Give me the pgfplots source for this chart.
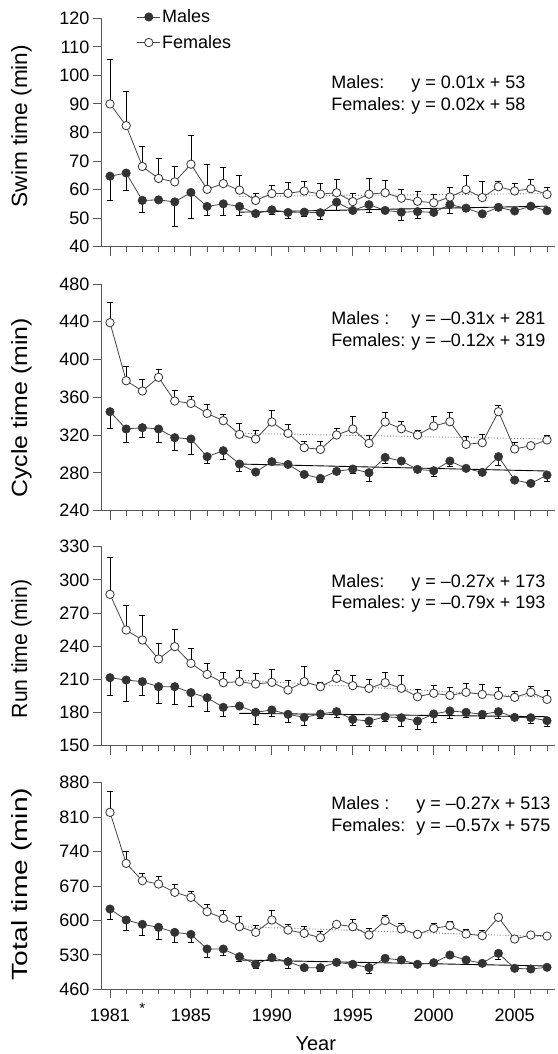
\documentclass[border=0pt]{standalone}
\usepackage{fontspec}
\setmainfont{Liberation Sans}
\usepackage{graphicx}
\usepackage{pgfplots}
\usepackage{pgfplotstable}
\pgfplotsset{compat=1.18}

\definecolor{mfill}{HTML}{333333}
\definecolor{lgray}{HTML}{444444}

\pgfplotstableread{
x y e
0 64.7 8.5
1 65.8 6.0
2 56.2 4.2
3 56.4 0.3
4 55.7 8.7
5 59.0 9.2
6 54.1 3.0
7 55.0 4.0
8 54.1 3.0
9 51.6 0.8
10 52.9 1.7
11 52.0 2.0
12 52.1 1.5
13 51.9 2.5
14 55.6 3.0
15 52.7 1.0
16 54.7 2.6
17 52.7 0.5
18 52.1 2.8
19 52.3 2.3
20 52.0 0.8
21 54.7 3.1
22 53.5 1.0
23 51.5 0.5
24 53.8 1.0
25 52.5 0.8
26 54.2 0.5
27 52.6 0.8
}\swimM

\pgfplotstableread{
x y e
0 90.0 15.5
1 82.4 11.9
2 68.1 6.9
3 63.9 7.1
4 62.7 5.3
5 68.9 10.0
6 60.1 8.8
7 62.1 5.6
8 59.8 5.0
9 56.2 2.6
10 58.6 2.9
11 58.7 3.9
12 59.5 3.5
13 58.4 3.7
14 58.9 4.7
15 55.8 2.8
16 58.4 5.6
17 58.9 4.4
18 57.0 3.0
19 55.9 3.4
20 55.4 3.0
21 57.4 3.5
22 60.0 5.0
23 57.2 5.8
24 61.0 1.8
25 59.5 2.5
26 60.3 3.2
27 58.3 2.3
}\swimF

\pgfplotstableread{
x y e
0 344.8 17.6
1 326.5 14.2
2 327.9 10.6
3 326.5 14.5
4 317.3 13.1
5 315.9 15.9
6 297.2 7.1
7 303.5 8.8
8 289.4 8.1
9 280.9 2
10 291.9 2
11 289.0 2
12 278.4 2
13 274.2 4.6
14 281.6 2
15 284.1 4.1
16 280.2 9.5
17 296.4 6.3
18 292.6 2
19 283.7 2
20 282.3 5.6
21 292.6 5.9
22 284.8 2
23 280.6 2
24 297.2 8.8
25 272.4 2
26 268.9 2
27 277.7 7
}\cycleM

\pgfplotstableread{
x y e
0 439.0 21.2
1 377.6 15.6
2 366.7 12.3
3 381.2 8.8
4 356.1 10.9
5 353.6 7.7
6 343.0 9.9
7 335.3 6.7
8 320.8 11.7
9 315.9 9.5
10 333.9 12.0
11 321.9 9.5
12 306.7 6.3
13 304.9 8.8
14 320.1 7.1
15 326.5 13.7
16 311.3 8.8
17 333.9 9.9
18 326.8 7.4
19 320.1 5.3
20 329.6 9.9
21 334.2 9.6
22 310.2 8.1
23 312.0 9.2
24 344.8 7.1
25 305.3 6.7
26 308.8 3
27 314.8 5.3
}\cycleF

\pgfplotstableread{
x y e
0 211.5 16.3
1 209.4 19.0
2 207.9 12.1
3 203.4 15.1
4 203.4 16.0
5 198.0 12.7
6 193.4 12.0
7 184.7 8.5
8 185.9 1.5
9 180.2 10.6
10 182.3 6.1
11 178.4 7.6
12 175.6 6.9
13 178.7 4.2
14 180.8 4.8
15 173.8 5.1
16 172.3 5.1
17 176.2 4.5
18 175.3 7.5
19 172.3 7.5
20 178.7 7.9
21 181.4 6.9
22 180.2 4.2
23 178.4 3.4
24 180.8 6.3
25 175.6 1.5
26 175.3 5.1
27 172.6 5.4
}\runM

\pgfplotstableread{
x y e
0 286.9 33.5
1 254.6 22.0
2 245.6 22.0
3 228.4 14.2
4 239.6 15.7
5 224.5 13.5
6 214.5 10.0
7 207.0 9.3
8 207.9 10.5
9 205.8 9.6
10 207.3 12.1
11 200.4 8.4
12 207.9 13.6
13 203.4 3.9
14 210.9 7.0
15 204.3 9.0
16 201.9 8.1
17 207.0 9.3
18 201.9 12.0
19 194.3 6.7
20 197.4 7.5
21 195.5 7.0
22 198.3 8.1
23 196.4 9.1
24 195.5 7.0
25 193.7 5.2
26 198.3 5.1
27 191.9 7.9
}\runF

\pgfplotstableread{
x y e
0 623.2 20.3
1 600.9 20.4
2 592.0 21.6
3 586.0 23.8
4 575.8 20.4
5 571.7 16.3
6 541.9 17.6
7 541.9 12.2
8 526.3 10.1
9 510.8 8.9
10 524.3 3
11 516.2 13.6
12 504.0 3
13 504.0 8.2
14 514.8 3
15 510.8 3
16 504.0 11.5
17 523.0 3
18 519.6 3
19 510.8 3
20 514.1 3
21 529.7 3
22 519.6 3
23 512.8 3
24 533.1 12.2
25 502.6 3
26 501.3 3
27 504.7 3
}\totalM

\pgfplotstableread{
x y e
0 819.7 43.3
1 716.0 23.8
2 680.8 15.0
3 674.0 15.0
4 657.1 16.9
5 646.9 12.9
6 617.8 15.6
7 604.3 16.9
8 587.3 20.4
9 575.8 15.0
10 600.9 20.3
11 580.5 11.6
12 573.8 13.5
13 564.9 12.3
14 592.0 6.8
15 587.3 15.6
16 570.4 13.5
17 599.5 11.5
18 582.6 11.4
19 571.7 5.5
20 583.9 10.1
21 589.3 9.5
22 572.4 9.5
23 569.0 10.2
24 606.3 3
25 562.2 3
26 570.4 3
27 568.3 3
}\totalF

\pgfplotsset{
  panel/.style={
    scale only axis, width=453.2bp, xmin=-0.5, xmax=27.5, clip=false,
    axis x line*=bottom, axis y line*=left,
    axis line style={black!65, line width=0.9bp},
    tick align=outside, major tick length=9bp, minor tick length=5bp,
    tick style={black!65, line width=0.9bp},
    xtick={0,5,10,15,20,25},
    minor xtick={1,2,3,4,6,7,8,9,11,12,13,14,16,17,18,19,21,22,23,24,26,27},
    tick label style={font=\fontsize{18bp}{21bp}\selectfont},
    /pgf/number format/assume math mode=true,
    ylabel style={font=\fontsize{22bp}{26bp}\selectfont, anchor=base},
    legend image code/.code={\draw[mark repeat=2,mark phase=2] plot coordinates {(0bp,0bp) (11.5bp,0bp) (23bp,0bp)};},
  },
  males/.style={color=lgray, line width=0.8bp, mark=*, mark size=4.2bp,
    mark options={fill=mfill, draw=mfill, line width=0.6bp, solid},
    error bars/.cd, y dir=minus, y explicit,
    error bar style={black, line width=0.8bp},
    error mark options={black, line width=0.8bp, mark size=3bp, rotate=90}},
  females/.style={color=lgray, line width=0.8bp, mark=*, mark size=4.2bp,
    mark options={fill=white, draw=mfill, line width=0.8bp, solid},
    error bars/.cd, y dir=plus, y explicit,
    error bar style={black, line width=0.8bp},
    error mark options={black, line width=0.8bp, mark size=3bp, rotate=90}},
  mtrend/.style={black, line width=0.9bp, no marks, forget plot},
  ftrend/.style={black!55, line width=0.9bp, dotted, no marks, forget plot},
}

\begin{document}
\begin{tikzpicture}
\useasboundingbox (0,0) rectangle (558bp,1054bp);

% ---------- Swim ----------
\begin{axis}[panel, at={(101.9bp,807.3bp)}, anchor=south west, height=228.4bp,
  ymin=40, ymax=120, ytick={40,50,...,120}, xticklabels={},
  ylabel={\scalebox{1.03}[1]{Swim time (min)}},
  ylabel style={at={(axis description cs:-0.165,0.528)}},
  legend style={at={(axis description cs:0.0768,1.045)}, anchor=north west,
    draw=none, fill=none, inner sep=0pt, row sep=8bp,
    font=\fontsize{18bp}{21bp}\selectfont, nodes={inner sep=1.5bp}},
  legend cell align=left]
\addplot[mtrend] coordinates {(8,52.1) (27,54.2)};
\addplot[ftrend] coordinates {(8,57.6) (27,58.6)};
\addplot[males] table[x=x, y=y, y error=e] {\swimM};
\addplot[females] table[x=x, y=y, y error=e] {\swimF};
\legend{Males,Females}
\end{axis}

% ---------- Cycle ----------
\begin{axis}[panel, at={(101.9bp,543.3bp)}, anchor=south west, height=226.7bp,
  ymin=240, ymax=480, ytick={240,280,...,480}, xticklabels={},
  ylabel={\scalebox{1.13}[1]{Cycle time (min)}},
  ylabel style={at={(axis description cs:-0.165,0.453)}}]
\addplot[mtrend] coordinates {(8,289.4) (27,282.0)};
\addplot[ftrend] coordinates {(8,321.9) (27,315.9)};
\addplot[males] table[x=x, y=y, y error=e] {\cycleM};
\addplot[females] table[x=x, y=y, y error=e] {\cycleF};
\end{axis}

% ---------- Run ----------
\begin{axis}[panel, at={(101.9bp,308.3bp)}, anchor=south west, height=199bp,
  ymin=150, ymax=330, ytick={150,180,...,330}, xticklabels={},
  ylabel={\scalebox{0.96}[1]{Run time (min)}},
  ylabel style={at={(axis description cs:-0.165,0.486)}}]
\addplot[mtrend] coordinates {(8,179.3) (27,176.2)};
\addplot[ftrend] coordinates {(8,209.4) (27,193.7)};
\addplot[males] table[x=x, y=y, y error=e] {\runM};
\addplot[females] table[x=x, y=y, y error=e] {\runF};
\end{axis}

% ---------- Total ----------
\begin{axis}[panel, at={(101.9bp,64.7bp)}, anchor=south west, height=206.6bp,
  ymin=460, ymax=880, ytick={460,530,...,880},
  xticklabels={1981,1985,1990,1995,2000,2005},
  xticklabel style={yshift=-7bp},
  ylabel={\scalebox{1.28}[1]{Total time (min)}},
  ylabel style={at={(axis description cs:-0.165,0.51)}},
  xlabel={Year},
  xlabel style={at={(axis description cs:0.472,-0.297)}, anchor=base,
    font=\fontsize{20bp}{24bp}\selectfont}]
\addplot[mtrend] coordinates {(8,519.6) (27,507.4)};
\addplot[ftrend] coordinates {(8,587.3) (27,567.0)};
\addplot[males] table[x=x, y=y, y error=e] {\totalM};
\addplot[females] table[x=x, y=y, y error=e] {\totalF};
\node[anchor=base, font=\fontsize{15bp}{18bp}\selectfont, inner sep=0pt, yshift=-24.3bp] at (axis cs:2,460) {*};
\end{axis}

% ---------- regression equations ----------
\newcommand{\eqfont}{\fontsize{18bp}{21.7bp}\selectfont}
\node[anchor=base west, inner sep=0pt] at (331.2bp,965.5bp)
  {\eqfont\begin{tabular}[t]{@{}l@{\hspace{6bp}}l@{}}Males: & y = 0.01x + 53\\ Females: & y = 0.02x + 58\end{tabular}};
\node[anchor=base west, inner sep=0pt] at (331.2bp,729.3bp)
  {\eqfont\begin{tabular}[t]{@{}l@{\hspace{6bp}}l@{}}Males : & y = --0.31x + 281\\ Females: & y = --0.12x + 319\end{tabular}};
\node[anchor=base west, inner sep=0pt] at (331.2bp,466.9bp)
  {\eqfont\begin{tabular}[t]{@{}l@{\hspace{6bp}}l@{}}Males: & y = --0.27x + 173\\ Females: & y = --0.79x + 193\end{tabular}};
\node[anchor=base west, inner sep=0pt] at (331.2bp,244.3bp)
  {\eqfont\begin{tabular}[t]{@{}l@{\hspace{11bp}}l@{}}Males : & y = --0.27x + 513\\ Females: & y = --0.57x + 575\end{tabular}};
\end{tikzpicture}
\end{document}
